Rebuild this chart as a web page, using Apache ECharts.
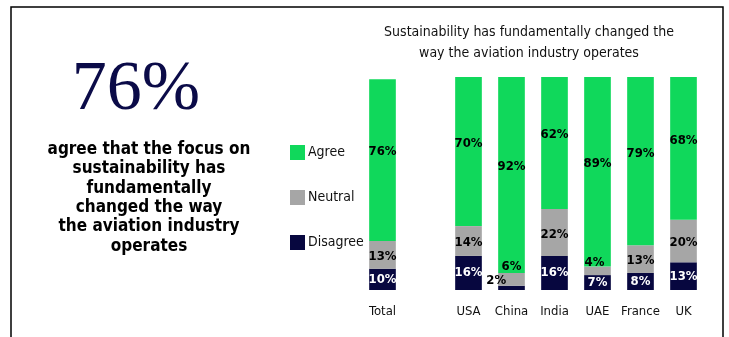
<!DOCTYPE html>
<html>
<head>
<meta charset="utf-8">
<script src="https://cdn.jsdelivr.net/npm/echarts@6/dist/echarts.min.js"></script>
<style>
  html, body { margin: 0; padding: 0; background: #fff; }
  #chart { width: 729px; height: 337px; }
</style>
</head>
<body>
<div id="chart"></div>
<script>
// categories ('' is the gap between Total and the countries)
const categories = ['Total', '', 'USA', 'China', 'India', 'UAE', 'France', 'UK']
const agree = [76, null, 70, 92, 62, 89, 79, 68]
const neutral = [13, null, 14, 6, 22, 4, 13, 20]
const disagree = [10, null, 16, 2, 16, 7, 8, 13]

const NARROW = '"Liberation Sans Narrow", "DejaVu Sans Condensed", "Arial Narrow", sans-serif'
const GREEN = '#10d85b'
const GREY = '#a6a6a6'
const NAVY = '#07073f'

// a few small segments have their label nudged like in the original
const labelTweaks = {
  Neutral: { China: { offset: [0, -13] }, UAE: { offset: [-3, -8] } },
  Disagree: { China: { position: 'left', offset: [13, -7], color: '#000' } }
}

function makeSeries (name, values, color, labelColor, offset) {
  return {
    name: name,
    type: 'bar',
    stack: 'all',
    barWidth: '62%',
    itemStyle: { color: color },
    label: {
      show: true,
      position: 'inside',
      offset: offset,
      color: labelColor,
      fontFamily: NARROW,
      fontWeight: 'bold',
      fontSize: 13,
      formatter: p => p.value == null ? '' : p.value + '%'
    },
    data: values.map((v, i) => {
      const t = (labelTweaks[name] || {})[categories[i]]
      return t ? { value: v, label: t } : v
    })
  }
}

const chart = echarts.init(document.getElementById('chart'))
chart.setOption({
  animation: false,
  title: {
    text: 'Sustainability has fundamentally changed the\nway the aviation industry operates',
    left: 524,
    top: 17,
    textAlign: 'center',
    textStyle: {
      fontFamily: NARROW,
      fontWeight: 'normal',
      fontSize: 14,
      lineHeight: 21,
      color: '#111'
    }
  },
  legend: {
    orient: 'vertical',
    left: 285,
    top: 140,
    itemWidth: 15,
    itemHeight: 15,
    itemGap: 30,
    icon: 'rect',
    data: ['Agree', 'Neutral', 'Disagree'],
    textStyle: { fontFamily: NARROW, fontSize: 14, color: '#111', padding: [0, 0, 0, -2] }
  },
  grid: { left: 361, right: 24, top: 77, bottom: 47 },
  xAxis: {
    type: 'category',
    data: categories,
    axisLine: { show: false },
    axisTick: { show: false },
    axisLabel: { interval: 0, fontFamily: NARROW, fontSize: 13, color: '#111', margin: 15 }
  },
  yAxis: {
    type: 'value',
    min: 0,
    max: 100,
    show: false,
    splitLine: { show: false }
  },
  series: [
    makeSeries('Disagree', disagree, NAVY, '#fff', [0, 0]),
    makeSeries('Neutral', neutral, GREY, '#000', [0, 2]),
    makeSeries('Agree', agree, GREEN, '#000', [0, -8])
  ],
  graphic: [
    {
      type: 'polyline',
      shape: { points: [[11, 337], [11, 7], [723, 7], [723, 337]] },
      style: { stroke: '#000', lineWidth: 1.5, fill: null }
    },
    {
      type: 'text',
      x: 136,
      y: 91,
      style: {
        text: '76%',
        fontFamily: '"Liberation Serif", "DejaVu Serif", serif',
        fontSize: 70,
        fill: '#0b0b48',
        align: 'center',
        verticalAlign: 'middle'
      }
    },
    {
      type: 'text',
      x: 149,
      y: 140,
      style: {
        text: 'agree that the focus on\nsustainability has\nfundamentally\nchanged the way\nthe aviation industry\noperates',
        fontFamily: NARROW,
        fontWeight: 'bold',
        fontSize: 17,
        lineHeight: 19.3,
        fill: '#000',
        align: 'center',
        verticalAlign: 'top'
      }
    }
  ]
})
</script>
</body>
</html>
